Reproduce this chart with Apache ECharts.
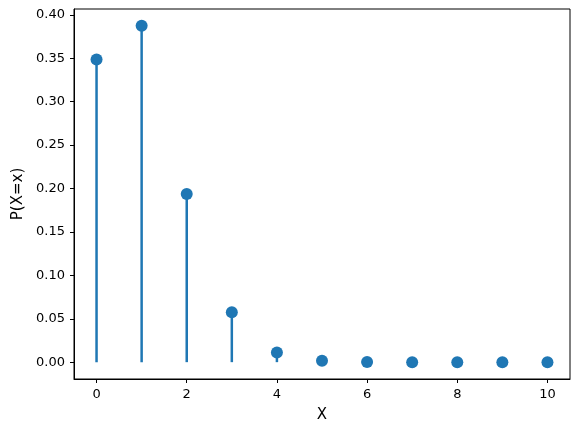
<!DOCTYPE html>
<html>
<head>
<meta charset="utf-8">
<script src="https://cdn.jsdelivr.net/npm/echarts@6/dist/echarts.min.js"></script>
<style>html,body{margin:0;padding:0;background:#fff}#c{width:579px;height:436px}</style>
</head>
<body>
<div id="c"></div>
<script>
const xValues = [0, 1, 2, 3, 4, 5, 6, 7, 8, 9, 10];
const probabilities = [0.3487, 0.3874, 0.1937, 0.0574, 0.0112, 0.0015, 0.0001, 0.0, 0.0, 0.0, 0.0];
const xTicks = [0, 2, 4, 6, 8, 10];
const yTicks = [0, 0.05, 0.10, 0.15, 0.20, 0.25, 0.30, 0.35, 0.40];

const color = '#1f77b4';
const pts = xValues.map((x, i) => [x, probabilities[i]]);
const font = 'DejaVu Sans';

const chart = echarts.init(document.getElementById('c'), null, {renderer: 'canvas'});
chart.setOption({
  animation: false,
  grid: {left: 74, right: 9, top: 9, bottom: 57, show: true, borderColor: '#000', borderWidth: 1, backgroundColor: 'transparent'},
  xAxis: {
    type: 'value', min: -0.5, max: 10.5,
    name: 'X', nameLocation: 'middle', nameGap: 29,
    nameTextStyle: {fontFamily: font, fontSize: 15, color: '#000'},
    axisLine: {show: true, onZero: false, lineStyle: {color: '#000', width: 1}},
    axisTick: {show: true, length: 4, customValues: xTicks, lineStyle: {color: '#000'}},
    axisLabel: {customValues: xTicks, fontFamily: font, fontSize: 13, color: '#000', margin: 9},
    splitLine: {show: false}
  },
  yAxis: {
    type: 'value', min: -0.0194, max: 0.4068,
    name: 'P(X=x)', nameLocation: 'middle', nameGap: 48, nameRotate: 90,
    nameTextStyle: {fontFamily: font, fontSize: 15, color: '#000'},
    axisLine: {show: true, onZero: false, lineStyle: {color: '#000', width: 1}},
    axisTick: {show: true, length: 4, customValues: yTicks, lineStyle: {color: '#000'}},
    axisLabel: {customValues: yTicks, fontFamily: font, fontSize: 13, color: '#000', margin: 9,
      formatter: v => v.toFixed(2)},
    splitLine: {show: false}
  },
  series: [
    {
      type: 'custom',
      data: pts,
      renderItem: function (params, api) {
        const x = api.value(0), y = api.value(1);
        const p0 = api.coord([x, 0]);
        const p1 = api.coord([x, y]);
        return {type: 'line', shape: {x1: p0[0], y1: p0[1], x2: p1[0], y2: p1[1]},
          style: {stroke: color, lineWidth: 2.5}};
      },
      z: 2
    },
    {
      type: 'scatter', data: pts, symbol: 'circle', symbolSize: 12,
      itemStyle: {color: color, opacity: 1}, z: 3
    }
  ]
});
</script>
</body>
</html>
